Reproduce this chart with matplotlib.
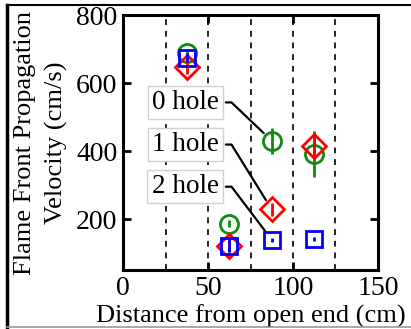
import numpy as np
import matplotlib.pyplot as plt

plt.rcParams['font.family'] = ['Liberation Serif', 'DejaVu Serif']

# distance of each measuring window from the open end (cm)
x_pos = [37.5, 62.5, 87.5, 112.5]

v_0hole = [688, 186, 430, 391]
e_0hole = [12, 10, 38, 67]
v_1hole = [648, 122, 228, 414]
e_1hole = [20, 20, 20, 32]
v_2hole = [675, 122, 139, 142]
e_2hole = [14, 18, 6, 6]

labels = ['0 hole', '1 hole', '2 hole']
label_y = [543, 419, 295]
window_edges = [25, 50, 75, 100, 125]

fig = plt.figure(figsize=(4.11, 3.29), dpi=100)
ax = fig.add_axes([0.2993, 0.1793, 0.6204, 0.775])

for xe in window_edges:
    ax.axvline(xe, color='k', ls=(0, (3.5, 3.5)), lw=1.2, zorder=1)

green = '#108a10'
red = '#ff0000'
blue = '#0000ff'
ax.errorbar(x_pos, v_0hole, yerr=e_0hole, fmt='o', ms=13, mfc='none', mec=green,
            mew=2, ecolor=green, elinewidth=2, capsize=0, zorder=3)
ax.errorbar(x_pos, v_1hole, yerr=e_1hole, fmt='D', ms=12, mfc='none', mec=red,
            mew=2, ecolor=red, elinewidth=2, capsize=0, zorder=4)
ax.errorbar(x_pos, v_2hole, yerr=e_2hole, fmt='s', ms=11, mfc='none', mec=blue,
            mew=2, ecolor=blue, elinewidth=2, capsize=0, zorder=5)

# labels pointing at the 87.5 cm point of each series
targets = [v_0hole[2], v_1hole[2], v_2hole[2]]
for lab, ly, ty in zip(labels, label_y, targets):
    ax.annotate(lab, xy=(87.5, ty), xytext=(36.5, ly), fontsize=19.5,
                ha='center', va='center', zorder=6,
                bbox=dict(boxstyle='square,pad=0.15', fc='white', ec='#d0d0d0', lw=1),
                arrowprops=dict(arrowstyle='-', color='k', lw=1.6, shrinkB=8,
                                relpos=(1, 0.5), shrinkA=2,
                                connectionstyle='arc,angleA=0,angleB=0,armA=13,armB=0,rad=0'))

ax.set_xlim(0, 150)
ax.set_ylim(50, 800)
ax.set_xticks([0, 50, 100, 150])
ax.set_yticks([200, 400, 600, 800])
ax.tick_params(labelsize=20, direction='in', length=6, width=2, top=True, right=True, pad=4)
for s in ax.spines.values():
    s.set_linewidth(2.2)

ax.set_xlabel('Distance from open end (cm)', fontsize=19, labelpad=3)
ax.set_ylabel('Flame Front Propagation\nVelocity (cm/s)', fontsize=19, labelpad=6,
              linespacing=1.5)

# page frame lines
fig.add_artist(plt.Line2D([7/411, 1], [1 - 5/329, 1 - 5/329], color='k', lw=1.5))
fig.add_artist(plt.Line2D([7/411, 7/411], [0, 1 - 5/329], color='k', lw=2.5))
fig.add_artist(plt.Line2D([7/411, 1], [2/329, 2/329], color='#999999', lw=1.2))

fig.savefig('out.png', dpi=100)
